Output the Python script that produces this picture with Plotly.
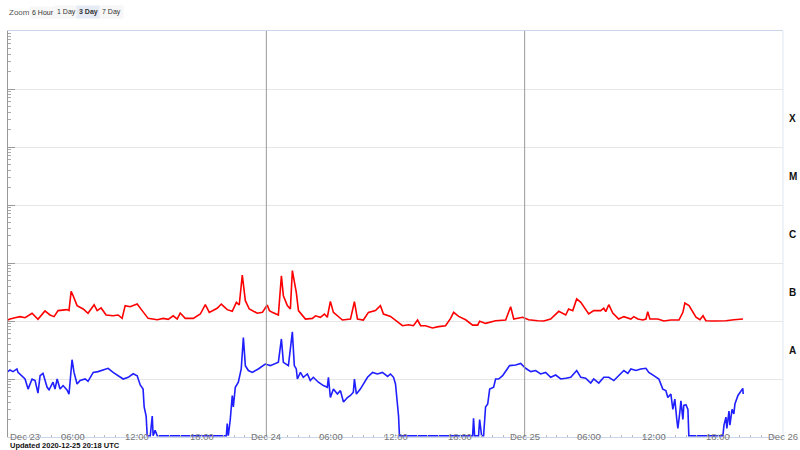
import plotly.graph_objects as go

FLOOR = 1.05e-9

long_time = ["2020-12-23 00:00","2020-12-23 00:11","2020-12-23 00:39","2020-12-23 01:07","2020-12-23 01:35","2020-12-23 02:14","2020-12-23 02:47","2020-12-23 03:26","2020-12-23 03:54","2020-12-23 04:17","2020-12-23 04:39","2020-12-23 05:29","2020-12-23 05:40","2020-12-23 05:52","2020-12-23 06:03","2020-12-23 06:25","2020-12-23 06:59","2020-12-23 07:26","2020-12-23 08:00","2020-12-23 08:17","2020-12-23 08:39","2020-12-23 09:07","2020-12-23 09:46","2020-12-23 10:14","2020-12-23 10:36","2020-12-23 10:53","2020-12-23 11:21","2020-12-23 12:00","2020-12-23 12:28","2020-12-23 13:01","2020-12-23 13:52","2020-12-23 14:25","2020-12-23 14:53","2020-12-23 15:21","2020-12-23 15:43","2020-12-23 16:00","2020-12-23 16:28","2020-12-23 17:13","2020-12-23 17:52","2020-12-23 18:20","2020-12-23 18:42","2020-12-23 19:26","2020-12-23 19:49","2020-12-23 20:22","2020-12-23 20:50","2020-12-23 21:13","2020-12-23 21:29","2020-12-23 21:46","2020-12-23 22:03","2020-12-23 22:25","2020-12-23 23:10","2020-12-23 23:38",
"2020-12-24 00:05","2020-12-24 00:17","2020-12-24 00:33","2020-12-24 01:07","2020-12-24 01:24","2020-12-24 01:35","2020-12-24 01:57","2020-12-24 02:14","2020-12-24 02:25","2020-12-24 02:47","2020-12-24 02:59","2020-12-24 03:38","2020-12-24 04:17","2020-12-24 04:34","2020-12-24 05:01","2020-12-24 05:24","2020-12-24 05:40","2020-12-24 05:57","2020-12-24 06:14","2020-12-24 07:04","2020-12-24 07:49","2020-12-24 08:11","2020-12-24 08:28","2020-12-24 09:01","2020-12-24 09:29","2020-12-24 10:08","2020-12-24 10:36","2020-12-24 10:53","2020-12-24 11:32","2020-12-24 12:11","2020-12-24 12:39","2020-12-24 13:13","2020-12-24 13:40","2020-12-24 14:03","2020-12-24 14:20","2020-12-24 14:47","2020-12-24 15:26","2020-12-24 16:00","2020-12-24 16:39","2020-12-24 17:07","2020-12-24 17:24","2020-12-24 17:52","2020-12-24 18:31","2020-12-24 19:10","2020-12-24 19:38","2020-12-24 19:49","2020-12-24 20:22","2020-12-24 21:18","2020-12-24 22:14","2020-12-24 22:42","2020-12-24 22:59","2020-12-24 23:49",
"2020-12-25 00:22","2020-12-25 01:13","2020-12-25 01:46","2020-12-25 02:25","2020-12-25 03:10","2020-12-25 03:49","2020-12-25 04:05","2020-12-25 04:28","2020-12-25 04:50","2020-12-25 05:13","2020-12-25 05:57","2020-12-25 06:25","2020-12-25 07:04","2020-12-25 07:21","2020-12-25 07:32","2020-12-25 07:49","2020-12-25 08:11","2020-12-25 08:44","2020-12-25 09:13","2020-12-25 09:52","2020-12-25 10:08","2020-12-25 10:31","2020-12-25 10:59","2020-12-25 11:16","2020-12-25 11:26","2020-12-25 11:38","2020-12-25 12:22","2020-12-25 12:56","2020-12-25 13:35","2020-12-25 14:20","2020-12-25 14:42","2020-12-25 14:53","2020-12-25 15:16","2020-12-25 15:55","2020-12-25 16:17","2020-12-25 16:34","2020-12-25 16:50","2020-12-25 17:35","2020-12-25 18:14","2020-12-25 18:42","2020-12-25 19:26","2020-12-25 20:17"]

long_flux = [1.04e-7,1.08e-7,1.14e-7,1.19e-7,1.14e-7,1.36e-7,1.07e-7,1.49e-7,1.27e-7,1.19e-7,1.51e-7,1.57e-7,1.51e-7,3.25e-7,2.73e-7,1.84e-7,1.61e-7,1.36e-7,1.91e-7,1.51e-7,1.68e-7,1.27e-7,1.23e-7,1.27e-7,1.11e-7,1.84e-7,1.76e-7,1.96e-7,1.51e-7,1.11e-7,1.05e-7,1.11e-7,1.07e-7,1.23e-7,1.08e-7,1.37e-7,1.11e-7,1.11e-7,1.32e-7,1.91e-7,1.41e-7,1.66e-7,1.96e-7,1.57e-7,1.47e-7,2.10e-7,1.89e-7,6.2e-7,2.24e-7,1.61e-7,1.36e-7,1.41e-7,
1.89e-7,1.51e-7,1.41e-7,1.27e-7,6.0e-7,2.73e-7,1.84e-7,1.61e-7,7.4e-7,3.12e-7,1.51e-7,1.08e-7,1.11e-7,1.23e-7,1.16e-7,1.32e-7,1.16e-7,2.18e-7,1.41e-7,1.04e-7,1.08e-7,2.15e-7,1.08e-7,1.04e-7,1.41e-7,1.51e-7,1.84e-7,1.32e-7,1.20e-7,0.97e-7,0.83e-7,0.86e-7,0.83e-7,1.04e-7,0.83e-7,0.83e-7,0.76e-7,0.80e-7,0.83e-7,1.11e-7,1.41e-7,1.20e-7,1.05e-7,0.85e-7,0.85e-7,0.99e-7,0.91e-7,1.01e-7,1.04e-7,1.76e-7,1.08e-7,1.16e-7,
1.05e-7,1.01e-7,1.0e-7,1.08e-7,1.47e-7,1.27e-7,1.61e-7,1.51e-7,2.40e-7,2.10e-7,1.32e-7,1.51e-7,1.51e-7,1.66e-7,1.45e-7,1.91e-7,1.37e-7,1.08e-7,1.19e-7,1.08e-7,1.19e-7,1.08e-7,1.04e-7,1.08e-7,1.45e-7,1.08e-7,1.08e-7,1.0e-7,1.04e-7,1.04e-7,1.41e-7,2.04e-7,1.84e-7,1.16e-7,1.05e-7,1.23e-7,1.01e-7,1.0e-7,0.99e-7,1.01e-7,1.05e-7,1.08e-7]

short_time = ["2020-12-23 00:00","2020-12-23 00:11","2020-12-23 00:28","2020-12-23 00:50","2020-12-23 00:56","2020-12-23 01:18","2020-12-23 01:35","2020-12-23 01:52","2020-12-23 02:14","2020-12-23 02:31","2020-12-23 02:47","2020-12-23 02:59","2020-12-23 03:15","2020-12-23 03:38","2020-12-23 03:49","2020-12-23 04:11","2020-12-23 04:22","2020-12-23 04:34","2020-12-23 04:50","2020-12-23 05:07","2020-12-23 05:29","2020-12-23 05:40","2020-12-23 05:57","2020-12-23 06:08","2020-12-23 06:25","2020-12-23 06:42","2020-12-23 07:10","2020-12-23 07:26","2020-12-23 07:55","2020-12-23 08:22","2020-12-23 08:50","2020-12-23 09:18","2020-12-23 09:46","2020-12-23 10:14","2020-12-23 10:42","2020-12-23 11:10","2020-12-23 11:38","2020-12-23 12:00","2020-12-23 12:17","2020-12-23 12:33","2020-12-23 12:39","2020-12-23 12:50","2020-12-23 12:56","2020-12-23 13:13","2020-12-23 13:24","2020-12-23 13:29","2020-12-23 13:40","2020-12-23 13:52","2020-12-23 20:17","2020-12-23 20:22","2020-12-23 20:28","2020-12-23 20:39","2020-12-23 20:50","2020-12-23 20:56","2020-12-23 21:07","2020-12-23 21:24","2020-12-23 21:40","2020-12-23 21:52","2020-12-23 22:03","2020-12-23 22:20","2020-12-23 22:42","2020-12-23 23:15","2020-12-23 23:54",
"2020-12-24 00:22","2020-12-24 00:50","2020-12-24 01:07","2020-12-24 01:24","2020-12-24 01:35","2020-12-24 02:03","2020-12-24 02:25","2020-12-24 02:36","2020-12-24 02:47","2020-12-24 02:53","2020-12-24 03:10","2020-12-24 03:26","2020-12-24 03:49","2020-12-24 04:05","2020-12-24 04:22","2020-12-24 04:50","2020-12-24 05:18","2020-12-24 05:40","2020-12-24 05:46","2020-12-24 05:57","2020-12-24 06:14","2020-12-24 06:36","2020-12-24 06:53","2020-12-24 07:10","2020-12-24 07:32","2020-12-24 07:49","2020-12-24 08:05","2020-12-24 08:11","2020-12-24 08:22","2020-12-24 08:44","2020-12-24 09:01","2020-12-24 09:24","2020-12-24 09:52","2020-12-24 10:20","2020-12-24 10:47","2020-12-24 11:16","2020-12-24 11:32","2020-12-24 11:49","2020-12-24 12:00","2020-12-24 12:11","2020-12-24 12:17","2020-12-24 12:22","2020-12-24 19:10","2020-12-24 19:15","2020-12-24 19:21","2020-12-24 19:43","2020-12-24 19:49","2020-12-24 20:00","2020-12-24 20:11","2020-12-24 20:22","2020-12-24 20:34","2020-12-24 20:45","2020-12-24 21:07","2020-12-24 21:18","2020-12-24 21:35","2020-12-24 21:57","2020-12-24 22:14","2020-12-24 22:36","2020-12-24 23:10","2020-12-24 23:38",
"2020-12-25 00:05","2020-12-25 00:34","2020-12-25 01:01","2020-12-25 01:29","2020-12-25 01:57","2020-12-25 02:25","2020-12-25 02:53","2020-12-25 03:21","2020-12-25 03:49","2020-12-25 04:17","2020-12-25 04:50","2020-12-25 05:13","2020-12-25 05:40","2020-12-25 06:08","2020-12-25 06:25","2020-12-25 06:53","2020-12-25 07:21","2020-12-25 07:49","2020-12-25 08:17","2020-12-25 08:44","2020-12-25 09:13","2020-12-25 09:35","2020-12-25 09:52","2020-12-25 10:20","2020-12-25 10:47","2020-12-25 11:16","2020-12-25 11:32","2020-12-25 12:00","2020-12-25 12:28","2020-12-25 12:50","2020-12-25 13:07","2020-12-25 13:18","2020-12-25 13:35","2020-12-25 13:46","2020-12-25 13:57","2020-12-25 14:08","2020-12-25 14:14","2020-12-25 14:25","2020-12-25 14:31","2020-12-25 14:42","2020-12-25 14:47","2020-12-25 14:59","2020-12-25 15:10","2020-12-25 15:15","2020-12-25 18:25","2020-12-25 18:31","2020-12-25 18:42","2020-12-25 18:47","2020-12-25 18:59","2020-12-25 19:04","2020-12-25 19:16","2020-12-25 19:26","2020-12-25 19:32","2020-12-25 19:49","2020-12-25 20:00","2020-12-25 20:16","2020-12-25 20:18"]

short_flux = [1.34e-8,1.43e-8,1.34e-8,1.49e-8,1.30e-8,1.14e-8,1.0e-8,0.67e-8,1.0e-8,0.94e-8,0.57e-8,1.14e-8,1.25e-8,0.72e-8,0.65e-8,0.88e-8,0.67e-8,1.0e-8,0.67e-8,0.77e-8,0.65e-8,0.55e-8,2.15e-8,1.30e-8,0.82e-8,0.94e-8,1.0e-8,0.91e-8,1.30e-8,1.34e-8,1.45e-8,1.53e-8,1.30e-8,1.14e-8,1.0e-8,1.07e-8,1.23e-8,1.14e-8,0.79e-8,0.67e-8,0.33e-8,0.23e-8,FLOOR,FLOOR,0.23e-8,FLOOR,0.13e-8,FLOOR,FLOOR,0.17e-8,FLOOR,0.2e-8,0.52e-8,0.33e-8,0.72e-8,0.88e-8,1.49e-8,5.2e-8,1.70e-8,1.40e-8,1.30e-8,1.49e-8,1.81e-8,
1.70e-8,1.81e-8,1.94e-8,4.9e-8,1.94e-8,1.70e-8,6.5e-8,1.70e-8,1.49e-8,1.0e-8,1.30e-8,1.07e-8,1.22e-8,0.94e-8,1.07e-8,0.88e-8,0.77e-8,0.72e-8,1.07e-8,0.48e-8,0.67e-8,0.55e-8,0.63e-8,0.40e-8,0.48e-8,0.52e-8,0.59e-8,1.0e-8,0.55e-8,0.67e-8,0.82e-8,1.07e-8,1.30e-8,1.22e-8,1.30e-8,1.11e-8,1.22e-8,1.07e-8,0.82e-8,0.40e-8,0.23e-8,FLOOR,FLOOR,0.21e-8,FLOOR,FLOOR,0.20e-8,FLOOR,FLOOR,0.33e-8,0.37e-8,0.67e-8,0.72e-8,1.0e-8,1.0e-8,1.14e-8,1.34e-8,1.70e-8,1.74e-8,1.86e-8,
1.53e-8,1.34e-8,1.40e-8,1.22e-8,1.30e-8,1.07e-8,1.17e-8,1.0e-8,1.03e-8,1.07e-8,1.40e-8,1.07e-8,1.03e-8,0.85e-8,1.0e-8,0.85e-8,1.07e-8,1.07e-8,0.94e-8,1.14e-8,1.40e-8,1.25e-8,1.49e-8,1.40e-8,1.49e-8,1.53e-8,1.30e-8,1.14e-8,1.0e-8,0.67e-8,0.63e-8,0.48e-8,0.55e-8,0.30e-8,0.45e-8,0.20e-8,0.14e-8,0.27e-8,0.42e-8,0.20e-8,0.35e-8,0.36e-8,0.30e-8,FLOOR,FLOOR,0.16e-8,0.22e-8,0.14e-8,0.28e-8,0.16e-8,0.30e-8,0.25e-8,0.37e-8,0.52e-8,0.59e-8,0.69e-8,0.55e-8]

x_range = ["2020-12-23 00:00", "2020-12-26 00:00"]
day_lines = ["2020-12-24 00:00", "2020-12-25 00:00"]
tick_times = ["2020-12-23 00:00","2020-12-23 06:00","2020-12-23 12:00","2020-12-23 18:00",
              "2020-12-24 00:00","2020-12-24 06:00","2020-12-24 12:00","2020-12-24 18:00",
              "2020-12-25 00:00","2020-12-25 06:00","2020-12-25 12:00","2020-12-25 18:00",
              "2020-12-26 00:00"]
tick_labels = ["Dec 23","06:00","12:00","18:00","Dec 24","06:00","12:00","18:00",
               "Dec 25","06:00","12:00","18:00","Dec 26"]
class_labels = ["X","M","C","B","A"]
class_log_pos = [-3.5,-4.5,-5.5,-6.5,-7.5]
zoom_buttons = ["6 Hour","1 Day","3 Day","7 Day"]
zoom_active = "3 Day"
updated_text = "Updated 2020-12-25 20:18 UTC"

FONT = "Liberation Sans, Arial, sans-serif"

fig = go.Figure()
fig.add_trace(go.Scatter(x=long_time, y=long_flux, mode="lines",
                         line=dict(color="#ff0000", width=1.6), name="Long", hoverinfo="skip"))
fig.add_trace(go.Scatter(x=short_time, y=short_flux, mode="lines",
                         line=dict(color="#1f1fff", width=1.6), name="Short", hoverinfo="skip"))

for d in day_lines:
    fig.add_shape(type="line", xref="x", yref="paper", x0=d, x1=d, y0=0, y1=1,
                  line=dict(color="#999999", width=1), layer="above")

fig.add_shape(type="line", xref="paper", yref="paper", x0=1, x1=1, y0=0, y1=1,
              line=dict(color="#dfe5f0", width=1))

annotations = []
for i, (t, lab) in enumerate(zip(tick_times, tick_labels)):
    annotations.append(dict(x=t, xref="x", y=0, yref="paper", text=lab, showarrow=False,
                            xanchor="left" if i == 0 else "center", yanchor="middle", yshift=1,
                            font=dict(size=9.5, color="#777777", family=FONT)))
for lab, pos in zip(class_labels, class_log_pos):
    annotations.append(dict(x=1, xref="paper", y=pos, yref="y", text="<b>%s</b>" % lab,
                            showarrow=False, xanchor="left", xshift=4,
                            font=dict(size=10, color="#111111", family=FONT)))
annotations.append(dict(x=0, xref="paper", y=1, yref="paper", text="Zoom", showarrow=False,
                        xanchor="left", yanchor="middle", yshift=19, xshift=-1,
                        font=dict(size=8, color="#555555", family=FONT)))
btn_centers = [35, 58, 80, 103]
for lab, bx in zip(zoom_buttons, btn_centers):
    active = lab == zoom_active
    annotations.append(dict(x=0, xref="paper", y=1, yref="paper",
                            text="<b>%s</b>" % lab if active else lab, showarrow=False,
                            xanchor="center", yanchor="middle", yshift=19, xshift=bx,
                            bgcolor="#e6ebf5" if active else "#f7f7f7", borderpad=2,
                            font=dict(size=7, color="#333333", family=FONT)))
annotations.append(dict(x=0, xref="paper", y=0, yref="paper", text="<b>%s</b>" % updated_text,
                        showarrow=False, xanchor="left", yanchor="middle", yshift=-8,
                        font=dict(size=7.5, color="#111111", family=FONT)))

fig.update_layout(
    width=800, height=450,
    margin=dict(l=8, r=17, t=31, b=13, autoexpand=False),
    paper_bgcolor="white", plot_bgcolor="white",
    showlegend=False,
    annotations=annotations,
    font=dict(family=FONT),
    xaxis=dict(type="date", range=x_range, showgrid=False, showticklabels=False,
               showline=True, linecolor="#ccd6eb", linewidth=1, mirror=True,
               ticks="inside", ticklen=3, tickcolor="#ccd6eb", dtick=6 * 3600 * 1000,
               tick0="2020-12-23 00:00",
               minor=dict(ticks="inside", ticklen=2, tickcolor="#bbbbbb",
                          dtick=3600 * 1000, showgrid=False),
               zeroline=False, fixedrange=True),
    yaxis=dict(type="log", range=[-9, -2], showgrid=True, gridcolor="#e6e6e6", gridwidth=1,
               showticklabels=False, dtick=1, ticks="inside", ticklen=7, tickcolor="#999999",
               showline=True, linecolor="#999999", linewidth=1,
               minor=dict(ticks="inside", ticklen=3, tickcolor="#aaaaaa", dtick="D1",
                          showgrid=False),
               zeroline=False, fixedrange=True),
)

# remove the default page margin so the 800x450 figure fills the window exactly
fig.write_html("out.html", config={"displayModeBar": False},
               post_script="document.body.style.margin='0';document.body.style.overflow='hidden';")
